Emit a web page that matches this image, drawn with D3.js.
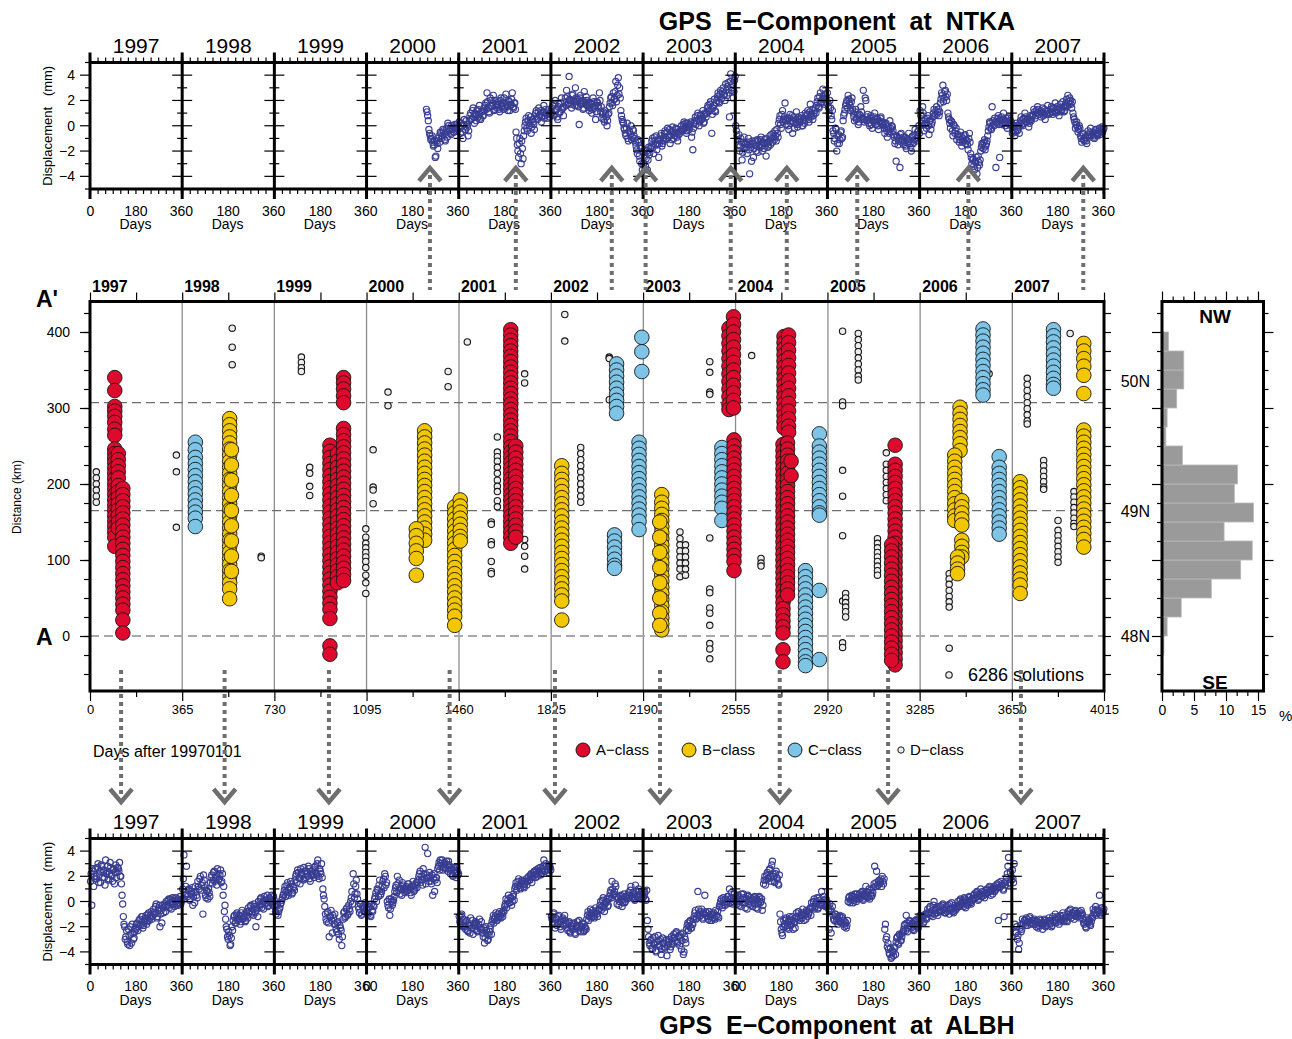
<!DOCTYPE html>
<html>
<head>
<meta charset="utf-8">
<script src="https://d3js.org/d3.v7.min.js"></script>
<style>
  body { margin: 0; background: #fff; }
  svg { display: block; font-family: "Liberation Sans", Arial, Helvetica, sans-serif; }
</style>
</head>
<body>
<div id="chart"></div>
<script>
// ---------- data ----------
const years = [1997, 1998, 1999, 2000, 2001, 2002, 2003, 2004, 2005, 2006, 2007];
const yearStartDays = [0, 365, 730, 1095, 1461, 1826, 2191, 2556, 2922, 3287, 3652];

// GPS east component, tenths of mm, one value every 5 days from the start day;
// the "B" lists are the readings in between (start day + 2.5)
const gpsStep = 5;
const ntkaStart = [null, null, null, 237, 2, 2, 2, 2, 2, 2, 2];
const ntkaE = [
  null, null, null,
  [13, 8, -3, -8, -10, -13, -15, -25, -12, -18, -8, -5, -10, -3, -7, -12, -2, 2, -4, -6, 0, -3, -5, -1, 1],
  [3, -6, 0, -10, 5, -3, 1, -8, 4, 10, 6, 14, 2, 9, 12, 7, 16, 5, 11, 8, 12, 18, 26, 14, 10, 20, 16, 24, 13, 17,
   14, 19, 11, 22, 16, 13, 18, 25, 15, 20, 12, 17, 26, 14, 18, -5, -15, -25, -10, -30, -18, -8, 0, 6, -4, 8, 2, -6, 5, 1,
   7, 12, 5, 14, 9, 3, 11, 16, 8, 10, 6, 13, 9],
  [10, 16, 8, 20, 13, 5, 17, 11, 22, 14, 15, 22, 28, 17, 39, 20, 14, 25, 19, 30, 16, 21, 1, 24, 18, 13, 27, 17, 20, 15,
   12, 18, 10, 22, 14, 5, 19, 16, 26, 11, 6, 11, 3, 10, 0, 9, 15, 22, 18, 26, 21, 35, 24, 38, 30, 12, 5, 2,
   -3, -8, 2, -12, -5, 0, -9, -4, -10, -16, -22, -13, -28, -18, -35],
  [-30, -19, -26, -35, -17, -21, -16, -10, -22, -12, -8, -15, -25, -11, -6, -14, -9, -4, -11, -2, -8, -14, -5, -1, -10, -6, -3, -12, -7, -4,
   0, -4, 3, -1, -6, 2, -3, 1, -9, -19, 2, 7, 4, 10, 0, 8, 5, 12, 3, 9, 10, 16, 12, 19, -6, 14, 21, 11,
   20, 26, 18, 28, 22, 30, 25, 33, 24, 34, 7, 41, 30, 22, 36],
  [0, -8, -15, -20, -10, -27, -13, -18, -14, -22, -10, -38, -17, -12, -25, -15, -20, -11, -12, -17, -9, -20, -14, -11, -24, -13, -16, -8,
   -7, -13, -9, -4, -12, -6, 2, 8, -2, 12, 5, 18, 1, 6, -3, 9, 4, -6, 7, 2, 11, -1, 5, 3, 8, 0, 4, 10,
   6, 12, 3, 17, 9, 5, 10, 14, 16, 22, 14, 26, 19, 29, 21, 25, 18],
  [18, 10, 14, 5, -4, -12, -2, -20, -8, -14, -5, -10, 4, 10, 16, 20, 24, 18, 12, 22, 10, 4, 13, 6, 1, 9, 15, 5,
   28, 3, 20, 7, 5, 0, 8, -2, 4, 10, 1, 6, -3, 3, 7, 2, 0, -6, 2, -9, -3, 4, -5, -1, -7, -14, -28, -9, -12, -33, -6, -11,
   -15, -9, -18, -11, -6, -14, -20, -8, -13, -3, -10, -5, 0],
  [12, 2, 15, -4, 5, -2, 8, -7, 4, 1, 7, 13, 9, 15, 11, 8, 18, 26, 32, 22, 28, 20, 10, 5, -2, 3, -8, 0, -4, -11,
   -7, -13, -5, -16, -10, -8, -14, -12, -19, -6, -22, -30, -26, -35, -29, -38, -24, -31, -20, -14, -18, -11, -16, -12,
   -4, 3, -2, 15, 1, 6, -33, 2, 8, -25, 5, 1, 10, 3, 6, -2, 7, 4, 0],
  [-6, 0, -8, 2, -4, -1, 2, 7, 0, 6, 10, 3, 5, -1, 8, 4, 8, 13, 6, 12, 15, 9, 11, 7, 14, 10, 5, 12, 16, 9,
   10, 15, 9, 14, 18, 11, 13, 8, 17, 12, 19, 11, 16, 21, 24, 17, 20, 14, 10, 5, -2, 3, -5, 0, -8, -13, -6, -12, -9, -14,
   -4, -9, -2, -8, -5, -10, -3, -7, -6, -2, -5, -1, -3]
];
const ntkaEB = [
  null, null, null,
  [11, 4, -6, -11, -8, -16, -12, -24, -14, -10, -13, -6, -8, -4, -11, -5, -9, 0, -3, -7, -2, -5, 1, -2, -4],
  [-2, 2, -5, 1, -3, 4, -1, -4, 8, 5, 12, 7, 10, 4, 13, 9, 6, 11, 8, 14, 16, 13, 19, 11, 22, 15, 18, 12, 20, 16,
   17, 13, 20, 15, 18, 22, 14, 17, 12, 19, 16, 21, 15, 18, 13, -10, -20, -14, -22, -12, -26, -4, 3, -2, 4, 0, 7, -1, 3, -3,
   10, 6, 11, 8, 12, 7, 10, 6, 13, 9, 11, 7, 10],
  [14, 9, 17, 12, 7, 15, 10, 18, 13, 8, 19, 16, 23, 18, 21, 17, 24, 20, 16, 22, 19, 15, 22, 17, 20, 14, 19, 23, 16, 18,
   14, 17, 13, 19, 16, 11, 18, 14, 20, 15, 9, 5, 12, 7, 4, 10, 18, 23, 16, 21, 27, 19, 32, 25, 22, 8, 3, -2,
   -6, -2, -10, -4, -7, -11, -3, -8, -13, -19, -11, -24, -16, -30, -21],
  [-25, -32, -20, -27, -23, -18, -12, -17, -9, -15, -19, -11, -14, -8, -16, -12, -6, -10, -5, -9, -3, -7, -11, -4, -8, -2, -9, -5, -6, -3,
   -3, 1, -2, 2, -4, 0, -1, 3, -5, -2, 4, 1, 8, 5, 3, 9, 6, 2, 10, 7, 14, 11, 17, 13, 9, 16, 12, 18,
   23, 19, 25, 21, 27, 24, 20, 28, 31, 26, 35, 28, 33, 27, 39],
  [-4, -11, -7, -16, -13, -21, -9, -15, -17, -13, -19, -15, -28, -14, -18, -12, -16, -21, -15, -11, -16, -13, -18, -10, -14, -17, -12, -15,
   -10, -6, -11, -8, -3, -9, 5, 1, 9, 3, 7, 4, 4, 0, 6, 2, 8, 3, -2, 5, 1, 7, 3, 6, 0, 5, 2, 8,
   9, 5, 11, 7, 13, 8, 12, 10, 19, 15, 23, 18, 21, 24, 17, 22, 26],
  [14, 20, 8, 12, -6, -10, -3, -14, -7, -11, -4, -9, 8, 13, 18, 14, 21, 16, 19, 13, 7, 11, 5, 9, 3, 8, 11, 6,
   5, 22, 4, 9, 2, 6, 1, 4, 7, 3, 5, 0, 4, 6, 1, 3, -2, 1, -4, -1, -6, -2, 0, -4, -9, -12, -8, -15, -10, -7, -13, -9,
   -12, -16, -10, -13, -11, -17, -9, -14, -11, -7, -12, -4, -6],
  [8, 4, 10, 1, 2, 6, 0, 4, -3, 3, 10, 8, 12, 9, 13, 11, 21, 24, 19, 27, 23, 25, 7, 2, 4, -4, 1, -6, -2, -7,
   -9, -11, -8, -13, -12, -7, -11, -15, -10, -13, -25, -27, -32, -28, -25, -33, -29, -27, -17, -15, -13, -19, -14, -8,
   -1, 2, -3, 4, 0, 3, 3, 6, 1, 4, 7, 2, 5, 0, 3, 6, 1, 4, 2],
  [-4, -1, -5, 0, -3, -6, 4, 1, 5, 2, 7, 3, 6, 2, 5, 7, 9, 11, 8, 10, 13, 9, 12, 10, 8, 13, 11, 9, 12, 10,
   13, 11, 14, 12, 10, 15, 12, 14, 11, 13, 15, 12, 18, 15, 19, 22, 17, 19, 7, 3, 1, -1, -3, -2, -10, -7, -11, -9, -12, -8,
   -7, -5, -8, -6, -9, -4, -6, -8, -4, -7, -3, -5, -2]
];
const albhStart = [2, 2, 2, 2, 2, 2, 2, 2, 2, 2, 2];
const albhE = [
  [16, -3, 24, 20, 26, 18, 30, 21, 15, 28, 23, 19, 33, 24, 17, 22, 27, 20, 25, 14, 29, 23, 26, 31, 20, 5, -12,
   -20, -28, -32, -22, -35, -26, -18, -30, -24, -22, -17, -20, -14, -18, -12, -19, -15, -11, -16, -9, -13, -8, -12,
   -6, -10, -2, -12, -5, -20, -7, -3, -9, -4, 0, -4, 2, -1, -6, 3, -2, 1, -3, 2, -1, 4, 0],
  [10, 37, 5, 28, 4, 10, 2, 8, -3, 7, 12, 5, 16, 10, 20, 13, -10, 17, 5, 9, 2, 7, 15, 21, 17, 24, 19, 13, 22, 18, 25, 16,
   5, -8, -14, -22, -30, -27, -34, -20, -15, -11, -17, -9, -14, -12, -16, -7, -13, -10, -15, -11,
   -5, -9, -3, -8, -11, -4, -20, -6, 0, -4, 3, -2, -6, 1, -1, 5, -3, 2, 0, -2, 4],
  [-4, -10, -2, -8, -5, -1, 3, 6, 12, 8, 15, 5, 10, 14, 7, 11, 17, 22, 25, 19, 14, 23, 21, 27, 18, 24, 20, 26, 16, 22,
   25, 19, 28, 21, 33, 18, 24, 30, 10, 2, -10, -16, -8, -28, -12, -15, -11, -18, -18, -24, -16, -30, -21, -35,
   -14, -8, -12, -5, -10, -6, 0, 8, 22, 3, 12, 6, -4, -9, -2, -10, -5, -8, -3],
  [-6, -10, -4, -12, -7, -3, 2, 7, 10, 4, 17, 6, 12, 18, 22, 13, 0, -5, -11, 2, -3, 1, 8, 13, 20, 9, 6, 12, 15, 10,
   7, 12, 9, 14, 11, 5, 13, 8, 10, 15, 15, 20, 24, 17, 13, 22, 43, 19, 38, 16, 20, 14, 5, 22, 17, 19,
   26, 31, 33, 28, 25, 30, 27, 32, 24, 29, 22, 26, 20, 25, 23, 27, 21],
  [-12, -18, -10, -20, -17, -22, -15, -24, -19, -13, -21, -26, -18, -16, -23, -20, -14, -22, -22, -28, -33, -20, -26, -30, -24, -19,
   -16, -11, -14, -9, -15, -12, -8, -13, -10, -7, -4, 2, -2, 5, -1, 3, 0, 6, 10, 15, 12, 18, 11, 14, 16, 12,
   14, 18, 16, 20, 17, 22, 19, 23, 21, 25, 20, 24, 27, 22, 26, 33, 24, 28, 25, 29, 27],
  [-12, -18, -9, -21, -14, -17, -11, -20, -16, -13, -19, -15, -18, -23, -16, -25, -20, -22, -17, -26, -19, -21, -15, -24, -20, -18, -23, -21,
   -14, -8, -12, -6, -11, -9, -13, -5, -10, -7, -6, 0, -4, 3, -8, -1, 2, -3, 4, 9, 16, 5, 8, 12,
   -2, 3, 0, 5, -4, 2, -1, 4, 2, 7, 5, 12, 3, 6, 1, 8, 4, 10, 6, 2, 5],
  [4, 7, 1, -15, -28, -35, -30, -38, -33, -28, -40, -34, -31, -36, -42, -29, -33, -37, -30, -35, -32, -38, -28, -34,
   -26, -31, -24, -33, -27, -29, -38, -25, -40, -30, -22, -17, -20, -15, -21, -18, -12, -7, -13, 8, -9, -11, -6, -14, -10, -8,
   -9, -14, -8, -12, -15, -10, -13, -7, -11, -12, -4, 0, -3, 3, -1, 2, -2, 4, 10, -1, 3, 0, 6],
  [3, -2, 5, 0, -4, 2, 6, -1, 1, -6, 4, 0, -3, 2, -1, 4, -5, 1, -2, 3, 0, -7, 14, 20, 17, 23, 19, 26, 16, 32,
   20, 15, 24, 18, 13, -10, -22, -27, -15, -20, -13, -19, -22, -14, -18, -12, -16, -21,
   -9, -14, -8, -13, -11, -6, -15, -10, -7, -12, -9, -5, -1, -5, 2, -4, 0, -6, 3, -2, 8, -3, 1, -4, 0],
  [-3, -22, -6, -8, -11, -15, -10, -14, -18, -12, -16, -13, -15, -20, -17, -19, 0, 4, 1, 5, -1, 3, 2, 6,
   2, 6, 3, 8, 1, 5, 12, 4, 7, 2, 9, 5, 11, 28, 15, 12, 16, 14, 18, 20, 14, -22, -30, -36,
   -38, -42, -45, -39, -43, -37, -32, -28, -34, -27, -31, -25,
   -22, -18, -11, -24, -19, -16, -21, -17, -23, -15, -20, -18, -14],
  [-11, -15, -12, -16, -10, -14, -6, -10, -4, -9, -12, 0, -7, -5, -11, -8, -4, -8, -2, -7, -9, -5, -3, -10, -6, -1, -8, -5, -7, -4,
   0, -4, 2, -3, -1, 3, -5, 1, -2, 4, -1, 2, 2, 6, 3, 8, 1, 5, 10, 4, 7, 3, 6, 10, 7, 12, 5, 9, 11, 8,
   10, 14, -15, 11, 16, 13, 9, 15, 16, 22, 35, 14, 20],
  [25, 15, -18, -25, -30, -38, -21, -24, -14, -18, -15, -13, -19, -16, -12, -17, -15, -18,
   -15, -20, -16, -19, -14, -18, -22, -17, -15, -19, -16, -13, -18, -20, -12, -16, -10, -15, -13, -18, -11, -14, -9, -16, -13, -15,
   -8, -12, -6, -11, -9, -14, -7, -10, -12, -8, -11, -9, -14, -18, -20, -13, -17, -15, -19, -12,
   -6, -10, -4, -9, -7, 5, -11, -5, -8]
];
const albhEB = [
  [22, 26, 12, 18, 20, 27, 15, 24, 29, 19, 25, 13, 22, 28, 18, 31, 21, 16, 26, 23, 19, 27, 24, 20, 14, -2, -18,
   -30, -23, -34, -27, -20, -33, -25, -29, -21, -18, -23, -15, -19, -12, -21, -16, -13, -18, -10, -15, -11, -14, -9,
   -9, -4, -13, -7, -3, -10, -17, -5, -2, -8, -3, 1, -5, 2, -2, 0, -4, 3, -1, -3, 1, -2, 2],
  [18, 2, 12, 6, 9, 1, 6, 11, 4, -1, 8, 3, 12, 18, 9, 15, 21, 11, 3, 8, 10, 4, 19, 14, 23, 16, 20, 26, 17, 21, 15, 22,
   12, -3, -20, -28, -24, -35, -29, -23, -12, -17, -10, -15, -11, -18, -9, -14, -12, -16, -8, -13,
   -8, -4, -10, -6, -2, -9, -5, -12, -3, 2, -5, 0, 4, -2, 1, -4, 3, -1, 5, -3, 1],
  [-8, -3, -11, -6, -2, 1, 5, 9, 4, 13, 7, 11, 16, 6, 12, 9, 20, 15, 23, 18, 26, 21, 17, 24, 19, 22, 28, 18, 24, 21,
   21, 27, 23, 30, 20, 26, 22, 19, 5, -4, -14, -9, -17, -12, -7, -25, -13, -10, -22, -17, -26, -19, -23, -28,
   -9, -13, -6, -11, -3, -8, 3, -2, 14, 6, 17, 2, -6, -2, -11, -4, -8, -1, -6],
  [-9, -5, -11, -2, -8, -4, 4, 0, 9, 13, 5, 8, 16, 11, 20, 15, -3, 2, -6, 0, -1, 4, 11, 7, 14, 17, 10, 5, 13, 9,
   11, 8, 14, 10, 7, 12, 16, 9, 13, 11, 17, 22, 15, 20, 26, 18, 14, 21, 19, 23, 16, 21, 18, 8, 19, 15,
   28, 25, 30, 33, 27, 31, 26, 29, 32, 27, 25, 21, 27, 23, 19, 24, 22],
  [-16, -11, -19, -14, -20, -16, -23, -18, -25, -21, -15, -19, -22, -17, -24, -18, -21, -16, -25, -21, -29, -23, -31, -27, -22, -26,
   -14, -17, -12, -15, -10, -13, -11, -9, -12, -8, -2, -5, 1, -1, 3, -3, 4, 1, 12, 9, 16, 13, 10, 17, 14, 11,
   16, 13, 19, 17, 21, 15, 20, 24, 19, 22, 26, 23, 21, 25, 28, 24, 30, 26, 23, 28, 25],
  [-14, -10, -17, -13, -19, -12, -16, -22, -14, -18, -11, -17, -21, -17, -24, -19, -22, -18, -25, -20, -16, -23, -19, -21, -17, -24, -20, -22,
   -11, -15, -9, -13, -7, -12, -10, -8, -12, -6, -3, -7, 1, -5, -2, 0, -4, 2, 7, 3, 10, 6, 14, 4,
   2, -3, 4, 1, -1, 6, 0, 3, 5, 3, 9, 4, 7, 2, 13, 5, 3, 8, 4, 7, 3],
  [6, 2, 9, -22, -33, -31, -37, -29, -34, -39, -32, -27, -35, -30, -38, -33, -36, -31, -43, -34, -30, -36, -33, -29,
   -29, -25, -32, -28, -35, -26, -31, -42, -28, -33, -19, -23, -16, -21, -18, -14, -9, -14, -11, -6, -12, -8, -13, -10, 5, -11,
   -12, -8, -15, -10, -13, -9, -14, -11, -8, -13, -2, 2, -5, 1, -3, 0, 4, -1, 2, 7, -2, 3, 1],
  [0, 4, -3, 2, 6, -1, 3, -5, 2, 5, -2, 3, 1, -4, 3, -2, 2, -6, 4, -1, 2, -3, 17, 13, 21, 18, 25, 20, 29, 22,
   16, 22, 19, 14, 21, -16, -25, -20, -18, -14, -21, -16, -12, -19, -15, -22, -17, -13,
   -12, -8, -15, -10, -13, -9, -11, -14, -8, -10, -6, -11, -4, 0, -6, -2, 3, -5, 1, -3, -1, 4, -2, 2, -4],
  [-6, -2, -25, -4, -14, -10, -16, -12, -15, -11, -17, -12, -18, -16, -21, -15, 3, -1, 2, 4, 1, 6, 0, 3,
   5, 3, 7, 2, 6, 4, 8, 3, 10, 5, 4, 7, 14, 12, 24, 13, 17, 15, 12, 16, 18, -18, -28, -33,
   -41, -37, -44, -40, -36, -42, -29, -33, -26, -31, -28, -24,
   -19, -23, -17, -21, -15, -20, -18, -22, -16, -19, -14, -21, -17],
  [-14, -12, -17, -11, -13, -9, -9, -5, -11, -7, -3, -10, -6, -9, -4, -7, -7, -3, -6, -9, -4, -8, -6, -2, -7, -5, -9, -3, -6, -5,
   -3, 1, -2, 0, -4, 2, -1, -3, 3, 0, -2, 1, 5, 3, 7, 4, 2, 6, 4, 8, 5, 6, 9, 7, 11, 8, 10, 6, 12, 9,
   13, 11, 15, 12, 14, 10, -12, 13, 19, 28, 15, 23, 17],
  [18, 30, -24, -20, -27, -33, -19, -22, -17, -15, -19, -14, -16, -13, -18, -15, -17, -14,
   -18, -16, -21, -17, -15, -19, -17, -14, -20, -16, -18, -15, -17, -19, -15, -13, -17, -12, -14, -16, -12, -15, -11, -14, -12, -16,
   -10, -7, -13, -9, -11, -8, -12, -9, -10, -13, -7, -10, -17, -15, -21, -16, -14, -18, -16, -13,
   -9, -7, -11, -6, -8, -10, -5, -9, -6]
];

// earthquake swarm solutions: [day after 19970101, distance km, ...]
const classA = [
  [98, 340, 323, 302, 296, 289, 281, 272, 264, 246, 240, 234, 228, 221, 214, 207, 200, 193, 186, 179, 172, 165, 158, 151, 144, 137, 130, 118],
  [112, 240, 232, 224, 216, 208, 198, 190, 182, 174, 166, 158, 150, 142],
  [130, 194, 186, 178, 170, 162, 154, 146, 138, 130, 122, 114, 106, 98, 90, 82, 74, 66, 58, 50, 42, 34, 21, 4],
  [950, 251, 243, 235, 227, 219, 211, 203, 195, 187, 179, 171, 163, 155, 147, 139, 131, 123, 115, 107, 99, 91, 83, 75, 67, 59, 51, 43, 35, 23, -13, -24],
  [980, 240, 230, 222, 214, 206, 198, 190, 182, 174, 166, 158, 150, 142, 134, 126, 118, 110, 102, 94, 86, 78, 70],
  [1004, 340, 333, 325, 316, 307, 273, 265, 257, 249, 241, 233, 225, 217, 209, 201, 193, 185, 177, 169, 161, 153, 145, 137, 129, 121, 113, 105, 97, 89, 81, 73],
  [1666, 403, 396, 389, 382, 375, 368, 361, 354, 347, 340, 333, 326, 319, 312, 305, 298, 291, 284, 277, 270, 263, 256, 249, 242, 235, 228, 221, 214, 207, 200, 193, 186, 179, 172, 165, 158, 151, 144, 137, 130, 122],
  [1686, 250, 242, 234, 226, 218, 210, 202, 194, 186, 178, 170, 162, 154, 146, 138, 130],
  [2530, 405, 395, 385, 375, 365, 355, 345, 335, 325, 315, 305, 298],
  [2548, 420, 410, 400, 390, 380, 370, 360, 350, 340, 330, 320, 310, 300],
  [2550, 258, 250, 242, 234, 226, 218, 210, 202, 194, 186, 178, 170, 162, 154, 146, 138, 130, 122, 114, 106, 98, 86],
  [2748, 394, 386, 378, 370, 362, 354, 346, 338, 330, 322, 314, 306, 298, 290, 282, 274],
  [2766, 396, 386, 376, 366, 356, 346, 336, 326, 316, 306, 296, 286, 276, 268],
  [2744, 252, 244, 236, 228, 220, 212, 204, 196, 188, 180, 172, 164, 156, 148, 140, 132, 124, 116, 108, 100, 92, 84, 76, 68, 60, 52, 44, 36, 28, 20, 12, 4, -18, -34],
  [2762, 254, 246, 238, 230, 222, 214, 206, 198, 190, 182, 174, 166, 158, 150, 142, 134, 126, 118, 110, 102, 94, 86, 78, 70, 62, 54],
  [2776, 211, 230],
  [3188, 251, 226, 218, 210, 202, 194, 186, 178, 170, 162, 154, 146, 138, 130, 122, 114, 106, 98, 90, 82, 74, 66, 58, 50, 42, 34, 26, 18, 10, 2, -6, -14, -22, -30, -38],
  [3174, 120, 112, 104, 96, 88, 80, 72, 64, 56, 48, 40, 32, 24, 16, 8, 0, -8, -16, -24, -32]
];
const classB = [
  [553, 286, 278, 270, 262, 254, 246, 238, 230, 222, 214, 206, 198, 190, 182, 174, 166, 158, 150, 142, 134, 126, 118, 110, 102, 94, 86, 78, 70, 62, 49],
  [560, 245, 225, 205, 185, 165, 145, 125, 105, 85],
  [1325, 270, 262, 254, 246, 238, 230, 222, 214, 206, 198, 190, 182, 174, 166, 158, 150, 142, 134, 126],
  [1292, 141, 132, 122, 112, 102, 80],
  [1444, 170, 162, 154, 146, 138, 130, 122, 114, 106, 98, 90, 82, 74, 66, 58, 50, 42, 34, 26, 14],
  [1466, 179, 171, 163, 155, 147, 139, 131, 125],
  [1868, 224, 214, 206, 198, 190, 182, 174, 166, 158, 150, 142, 134, 126, 118, 110, 102, 94, 86, 78, 70, 62, 54, 46, 21],
  [2264, 186, 176, 168, 160, 152, 144, 136, 128, 120, 112, 104, 96, 88, 80, 72, 64, 56, 48, 40, 32, 24, 16, 8],
  [2256, 150, 130, 110, 90, 70, 50, 30, 14],
  [3445, 301, 293, 285, 277, 269, 261, 253, 244],
  [3424, 238, 230, 222, 214, 206, 198, 190, 182, 174, 166, 158, 152],
  [3452, 178, 170, 162, 154, 146, 126, 118, 110, 104],
  [3435, 104, 96, 88, 82],
  [3683, 203, 195, 187, 179, 171, 163, 155, 147, 139, 131, 123, 115, 107, 99, 91, 83, 75, 67, 56],
  [3935, 385, 375, 365, 355, 343, 319],
  [3935, 271, 263, 255, 247, 239, 231, 223, 215, 207, 199, 191, 183, 175, 167, 159, 151, 143, 135, 127, 117]
];
const classC = [
  [417, 255, 245, 235, 227, 219, 211, 203, 195, 187, 179, 171, 163, 155, 144],
  [2085, 358, 350, 342, 334, 326, 318, 310, 302, 293],
  [2185, 393, 374, 348],
  [2077, 133, 125, 117, 109, 101, 93, 89],
  [2174, 255, 247, 239, 231, 223, 215, 207, 199, 191, 183, 175, 167, 159, 151, 140],
  [2502, 248, 240, 232, 224, 216, 208, 200, 192, 184, 176, 168, 152],
  [2833, 86, 78, 70, 62, 54, 46, 38, 30, 22, 14, 6, -2, -10, -18, -26, -34, -39],
  [2888, 266, 250, 242, 234, 226, 218, 210, 202, 194, 186, 178, 170, 162, 159, 60, -31],
  [3536, 404, 396, 388, 380, 372, 364, 356, 348, 340, 332, 324, 317],
  [3600, 236, 222, 214, 206, 198, 190, 182, 174, 166, 158, 150, 142, 134],
  [3815, 403, 395, 387, 379, 371, 363, 355, 347, 339, 331, 326]
];
const classD = [
  [25, 216, 208, 200, 192, 184, 176], [342, 238, 216, 143], [563, 405, 380, 357], [678, 105, 103],
  [837, 367, 360, 353, 348], [870, 222, 214, 197, 185],
  [1092, 141, 130, 122, 116, 110, 104, 98, 90, 80, 70, 56], [1121, 245, 196, 192, 174], [1180, 321, 303],
  [1418, 348, 328], [1494, 387], [1613, 262, 242, 236, 230, 222, 214, 205, 197, 190, 178, 170],
  [1589, 150, 147, 124, 120, 98, 85, 82], [1721, 345, 333, 127, 118, 105, 88],
  [1880, 423, 388], [1943, 248, 240, 232, 224, 216, 208, 200, 192, 184, 176], [2056, 367, 365, 311],
  [2336, 137, 128, 120, 112, 104, 96, 88, 78], [2358, 120, 112, 104, 96, 88, 80],
  [2454, 361, 347, 321, 318, 129, 62, 57, 37, 30, 14, -10, -17, -30], [2620, 369], [2657, 102, 96, 92],
  [2980, 401, 308, 303, 218, 184, 132, 46, -9, -15], [3042, 398, 390, 382, 374, 366, 358, 350, 342, 337],
  [2992, 56, 50, 44, 38, 32, 25], [3118, 128, 122, 116, 110, 104, 98, 92, 86, 80],
  [3153, 241, 226, 218, 210, 202, 194, 186, 178], [3402, 82, 75, 68, 60, 52, 45, 38, -16], [3560, 345],
  [3711, 339, 331, 323, 315, 307, 299, 291, 283, 279], [3776, 231, 224, 217, 210, 203, 196, 193],
  [3833, 152, 139, 132, 125, 118, 111, 104, 97], [3881, 398], [3896, 190, 183, 176, 169, 162, 155, 148, 144]
];

const dashedDist = [307, 165, 0];
const upArrowDays = [1346, 1686, 2066, 2200, 2537, 2759, 3038, 3478, 3933];
const downArrowDays = [123, 533, 946, 1424, 1841, 2257, 2731, 3160, 3686];

// histogram: lower edge of each 25 km bin, percentage of solutions
const histLow = [-50, -25, 0, 25, 50, 75, 100, 125, 150, 175, 200, 225, 250, 275, 300, 325, 350, 375];
const histPct = [0.15, 0.3, 0.8, 3.0, 7.7, 12.3, 14.1, 9.7, 14.3, 11.3, 11.8, 3.2, 0.6, 0.8, 2.3, 3.4, 3.4, 1.0];
const latLabels = ["50N", "49N", "48N"];
const latDist = [336, 165, 0];

const legendLabels = ["A\u2212class", "B\u2212class", "C\u2212class", "D\u2212class"];
const classColors = ["#de0a2e", "#f2c700", "#7ec4e6", "#ececec"];

// ---------- drawing ----------
const FONT = '"Liberation Sans", Arial, Helvetica, sans-serif';
const svg = d3.select("#chart").append("svg").attr("width", 1292).attr("height", 1039);
svg.append("rect").attr("width", 1292).attr("height", 1039).attr("fill", "#fff");

const pw = 1014 / 11;
const dayTicks = d3.range(0, 361, 30);

function styleAxis(g, size) {
  g.attr("font-family", FONT).attr("font-size", size);
  g.select(".domain").remove();
  g.selectAll("line").attr("stroke", "#000").attr("stroke-width", 1.2);
  g.selectAll("text").attr("fill", "#000");
}

function drawStrip(top, bottom, seriesList, starts, zeroPanels, title, titleY) {
  const y = d3.scaleLinear().domain([-5, 5]).range([bottom, top]);
  const g = svg.append("g");

  years.forEach((yr, i) => {
    const x0 = 90 + i * pw;
    const x = d3.scaleLinear().domain([0, 365]).range([x0, x0 + pw]);
    seriesList.forEach((series, s) => {
      const vals = series[i];
      if (!vals) return;
      g.append("g").selectAll("circle").data(vals).join("circle")
        .attr("cx", (v, k) => x(starts[i] + s * gpsStep / 2 + k * gpsStep))
        .attr("cy", v => y(v / 10))
        .attr("r", 3.1)
        .attr("fill", "none")
        .attr("stroke", "#383d92")
        .attr("stroke-width", 1.15);
    });
    g.append("g").attr("transform", `translate(0,${top})`)
      .call(d3.axisTop(x).tickValues(dayTicks).tickSize(5).tickFormat(""))
      .call(a => styleAxis(a, 14));
    g.append("g").attr("transform", `translate(0,${bottom})`)
      .call(d3.axisBottom(x).tickValues(dayTicks).tickSize(5).tickPadding(12)
        .tickFormat(d => (d === 180 || d === 360 || (d === 0 && zeroPanels.includes(i))) ? d : ""))
      .call(a => styleAxis(a, 14));
    g.append("text").attr("x", x(180)).attr("y", bottom + 40)
      .attr("text-anchor", "middle").attr("font-size", 14).text("Days");
    g.append("text").attr("x", x(182.5)).attr("y", top - 10)
      .attr("text-anchor", "middle").attr("font-size", 21).text(yr);
  });

  // y ticks at every panel boundary
  const vTicks = d3.range(-5, 6, 1);
  d3.range(0, 12).forEach(b => {
    const xb = 90 + b * pw;
    const hasLeft = b !== 11, hasRight = b !== 0;
    g.append("g").selectAll("line").data(vTicks).join("line")
      .attr("x1", v => xb - (hasLeft ? (v % 2 === 0 ? 10 : 5) : 0))
      .attr("x2", v => xb + (hasRight ? (v % 2 === 0 ? 10 : 5) : 0))
      .attr("y1", v => y(v)).attr("y2", v => y(v))
      .attr("stroke", "#000").attr("stroke-width", 1.2);
    g.append("line").attr("x1", xb).attr("x2", xb).attr("y1", top - 10).attr("y2", bottom + 10)
      .attr("stroke", "#000").attr("stroke-width", 3);
  });
  [top, bottom].forEach(yy => g.append("line").attr("x1", 90).attr("x2", 1104)
    .attr("y1", yy).attr("y2", yy).attr("stroke", "#000").attr("stroke-width", 3));

  // left labels
  g.append("g").selectAll("text").data([-4, -2, 0, 2, 4]).join("text")
    .attr("x", 75).attr("y", v => y(v) + 5).attr("text-anchor", "end").attr("font-size", 14)
    .text(v => d3.format("d")(v));
  g.append("text").attr("transform", `translate(52,${(top + bottom) / 2}) rotate(-90)`)
    .attr("text-anchor", "middle").attr("font-size", 13)
    .style("white-space", "pre").text("Displacement   (mm)");

  svg.append("text").attr("x", 837).attr("y", titleY).attr("text-anchor", "middle")
    .attr("font-size", 25).attr("font-weight", "bold").style("white-space", "pre").text(title);
}

drawStrip(62.5, 189, [ntkaE, ntkaEB], ntkaStart, [0], "GPS  E\u2212Component  at  NTKA", 30);
drawStrip(838.5, 964.5, [albhE, albhEB], albhStart, [0, 3, 7], "GPS  E\u2212Component  at  ALBH", 1034);

// ---------- middle panel ----------
const midTop = 301.5, midBot = 691;
const xDay = d3.scaleLinear().domain([0, 4015]).range([90, 1104]);
const yDist = d3.scaleLinear().domain([0, 400]).range([636, 332]);
const mid = svg.append("g");

mid.append("g").selectAll("line").data(yearStartDays.slice(1)).join("line")
  .attr("x1", d => xDay(d)).attr("x2", d => xDay(d)).attr("y1", midTop).attr("y2", midBot)
  .attr("stroke", "#8c8c8c").attr("stroke-width", 1.3);
mid.append("g").selectAll("line").data(dashedDist).join("line")
  .attr("x1", 90).attr("x2", 1104).attr("y1", d => yDist(d)).attr("y2", d => yDist(d))
  .attr("stroke", d => d === 0 ? "#a8a8a8" : "#6e6e6e")
  .attr("stroke-width", d => d === 0 ? 2 : 1.2)
  .attr("stroke-dasharray", "9,5");

function swarm(rows, cls, r) {
  const pts = rows.flatMap(row => row.slice(1).map(d => ({ day: row[0], dist: d })));
  mid.append("g").selectAll("circle").data(pts).join("circle")
    .attr("cx", p => xDay(p.day)).attr("cy", p => yDist(p.dist)).attr("r", r)
    .attr("fill", classColors[cls]).attr("stroke", "#161616").attr("stroke-width", cls === 3 ? 1.1 : 0.9);
}
swarm(classD, 3, 3.2);
swarm(classC, 2, 7.3);
swarm(classB, 1, 7.3);
swarm(classA, 0, 7.3);

mid.append("rect").attr("x", 90).attr("y", midTop).attr("width", 1014).attr("height", midBot - midTop)
  .attr("fill", "none").attr("stroke", "#000").attr("stroke-width", 3);

mid.append("g").attr("transform", `translate(0,${midBot})`)
  .call(d3.axisBottom(xDay).tickValues(d3.range(0, 4016, 365)).tickSize(10).tickPadding(4).tickFormat(d3.format("d")))
  .call(a => styleAxis(a, 13));
mid.append("g").attr("transform", `translate(0,${midBot})`)
  .call(d3.axisBottom(xDay).tickValues(d3.range(182.5, 4015, 365)).tickSize(6).tickFormat(""))
  .call(a => styleAxis(a, 13));
mid.append("g").attr("transform", `translate(0,${midTop})`)
  .call(d3.axisTop(xDay).tickValues(d3.range(0, 4016, 182.5)).tickSize(9).tickFormat(""))
  .call(a => styleAxis(a, 13));
mid.append("g").selectAll("text").data(years).join("text")
  .attr("x", (d, i) => xDay(yearStartDays[i]) + 2).attr("y", 292)
  .attr("font-size", 16).attr("font-weight", "bold").text(d => d);

mid.append("g").attr("transform", "translate(90,0)")
  .call(d3.axisLeft(yDist).tickValues([0, 100, 200, 300, 400]).tickSize(10).tickPadding(10))
  .call(a => styleAxis(a, 14));
mid.append("g").attr("transform", "translate(90,0)")
  .call(d3.axisLeft(yDist).tickValues(d3.range(-50, 426, 25)).tickSize(6).tickFormat(""))
  .call(a => styleAxis(a, 14));
mid.append("g").attr("transform", "translate(1104,0)")
  .call(d3.axisRight(yDist).tickValues(d3.range(-50, 426, 25)).tickSize(7).tickFormat(""))
  .call(a => styleAxis(a, 14));

mid.append("text").attr("transform", "translate(21,497) rotate(-90)")
  .attr("text-anchor", "middle").attr("font-size", 12).text("Distance (km)");
mid.append("text").attr("x", 36).attr("y", 307).attr("font-size", 23).attr("font-weight", "bold").text("A'");
mid.append("text").attr("x", 36).attr("y", 645).attr("font-size", 23).attr("font-weight", "bold").text("A");
mid.append("text").attr("x", 93).attr("y", 757).attr("font-size", 16).text("Days after 19970101");

// legend
const leg = mid.append("g");
leg.selectAll("circle").data(legendLabels).join("circle")
  .attr("cx", (d, i) => 583 + i * 106).attr("cy", 750).attr("r", (d, i) => i === 3 ? 3.2 : 7)
  .attr("fill", (d, i) => classColors[i]).attr("stroke", "#161616").attr("stroke-width", 1);
leg.selectAll("text").data(legendLabels).join("text")
  .attr("x", (d, i) => 583 + i * 106 + (i === 3 ? 9 : 13)).attr("y", 755)
  .attr("font-size", 15).text(d => d);
mid.append("circle").attr("cx", 949).attr("cy", 675).attr("r", 3.2)
  .attr("fill", classColors[3]).attr("stroke", "#161616").attr("stroke-width", 1.1);
mid.append("text").attr("x", 968).attr("y", 681).attr("font-size", 18).text("6286 solutions");

// ---------- histogram ----------
const xPct = d3.scaleLinear().domain([0, 15]).range([1162, 1258]);
const hist = svg.append("g");
hist.selectAll("rect").data(histPct).join("rect")
  .attr("x", xPct(0)).attr("y", (p, i) => yDist(histLow[i] + 25))
  .attr("width", p => xPct(p) - xPct(0))
  .attr("height", (p, i) => yDist(histLow[i]) - yDist(histLow[i] + 25))
  .attr("fill", "#9a9a9a").attr("stroke", "#b8b8b8").attr("stroke-width", 0.8);
hist.append("rect").attr("x", 1162).attr("y", midTop).attr("width", 101.5).attr("height", midBot - midTop)
  .attr("fill", "none").attr("stroke", "#000").attr("stroke-width", 3);

const pctTicks = d3.range(0, 15.01, 5 / 3);
[[midBot, d3.axisBottom], [midTop, d3.axisTop]].forEach(([yy, ax]) => {
  hist.append("g").attr("transform", `translate(0,${yy})`)
    .call(ax(xPct).tickValues(pctTicks.filter((d, i) => i % 3 !== 0)).tickSize(5).tickFormat(""))
    .call(a => styleAxis(a, 14));
  hist.append("g").attr("transform", `translate(0,${yy})`)
    .call(ax(xPct).tickValues([0, 5, 10, 15]).tickSize(10).tickPadding(4)
      .tickFormat(yy === midBot ? d3.format("d") : ""))
    .call(a => styleAxis(a, 14));
});
[[1162, d3.axisLeft], [1263.5, d3.axisRight]].forEach(([xx, ax]) => {
  hist.append("g").attr("transform", `translate(${xx},0)`)
    .call(ax(yDist).tickValues(d3.range(-50, 426, 25).filter(d => d % 100 !== 0)).tickSize(5).tickFormat(""))
    .call(a => styleAxis(a, 14));
  hist.append("g").attr("transform", `translate(${xx},0)`)
    .call(ax(yDist).tickValues([0, 100, 200, 300, 400]).tickSize(10).tickFormat(""))
    .call(a => styleAxis(a, 14));
});
hist.selectAll("text.lat").data(latLabels).join("text").attr("class", "lat")
  .attr("x", 1150).attr("y", (d, i) => yDist(latDist[i]) + 6)
  .attr("text-anchor", "end").attr("font-size", 16).text(d => d);
hist.append("text").attr("x", 1215).attr("y", 323).attr("text-anchor", "middle")
  .attr("font-size", 19).attr("font-weight", "bold").text("NW");
hist.append("text").attr("x", 1215).attr("y", 689).attr("text-anchor", "middle")
  .attr("font-size", 19).attr("font-weight", "bold").text("SE");
hist.append("text").attr("x", 1279).attr("y", 721).attr("font-size", 15).text("%");

// ---------- arrows ----------
const arr = svg.append("g").attr("stroke", "#6e6e6e").attr("fill", "none");
arr.selectAll("line.up").data(upArrowDays).join("line").attr("class", "up")
  .attr("x1", d => xDay(d)).attr("x2", d => xDay(d)).attr("y1", 175).attr("y2", 290)
  .attr("stroke-width", 4).attr("stroke-dasharray", "4,4");
arr.selectAll("path.up").data(upArrowDays).join("path").attr("class", "up")
  .attr("d", d => `M${xDay(d) - 11},${181} L${xDay(d)},${168} L${xDay(d) + 11},${181}`)
  .attr("stroke-width", 4.5);
arr.selectAll("line.down").data(downArrowDays).join("line").attr("class", "down")
  .attr("x1", d => xDay(d)).attr("x2", d => xDay(d)).attr("y1", 670).attr("y2", 798)
  .attr("stroke-width", 4).attr("stroke-dasharray", "4,4");
arr.selectAll("path.down").data(downArrowDays).join("path").attr("class", "down")
  .attr("d", d => `M${xDay(d) - 11},${789} L${xDay(d)},${802} L${xDay(d) + 11},${789}`)
  .attr("stroke-width", 4.5);
</script>
</body>
</html>
